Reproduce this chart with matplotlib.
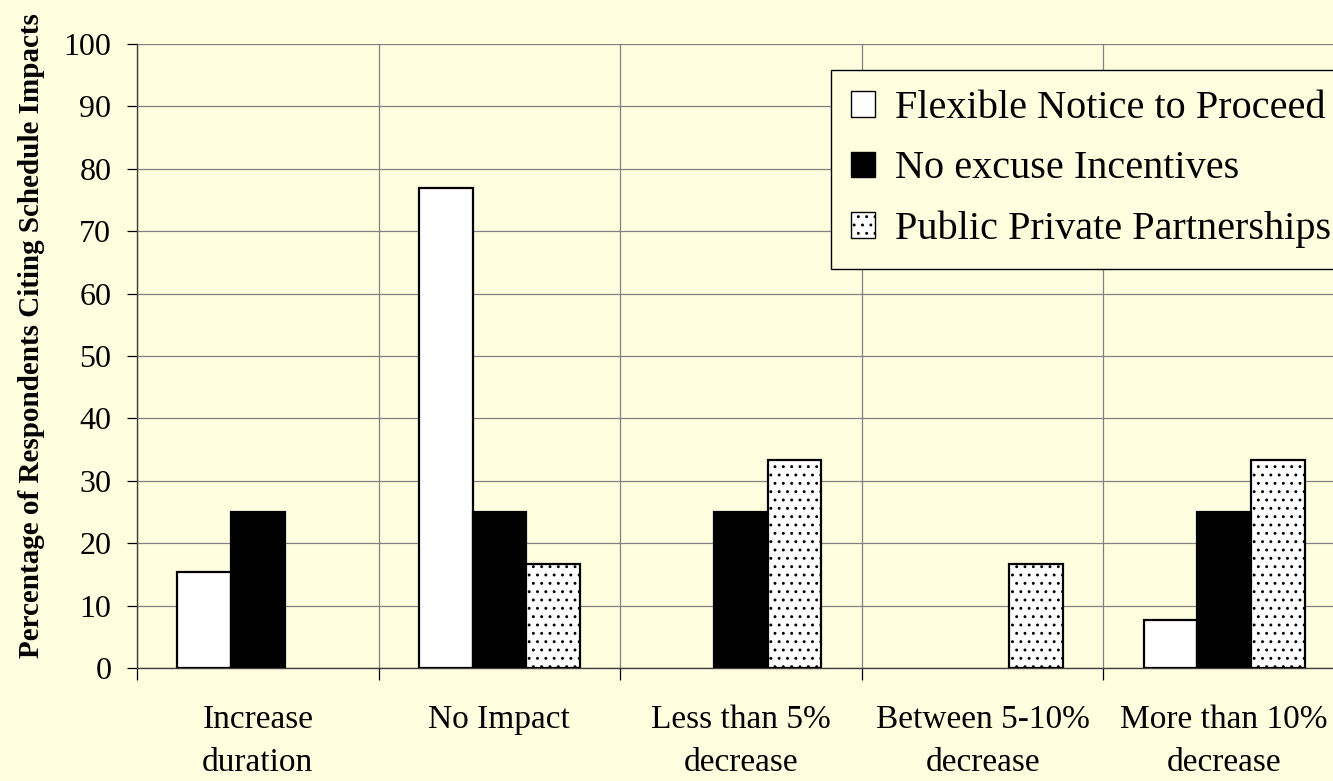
import numpy as np
import matplotlib
matplotlib.use('Agg')
import matplotlib.pyplot as plt
import matplotlib.ticker as ticker

categories = ['Increase\nduration', 'No Impact', 'Less than 5%\ndecrease',
              'Between 5-10%\ndecrease', 'More than 10%\ndecrease']
series_names = ['Flexible Notice to Proceed', 'No excuse Incentives',
                'Public Private Partnerships']
flexible_ntp = [15.4, 76.9, 0, 0, 7.7]
no_excuse = [25, 25, 25, 0, 25]
ppp = [0, 16.7, 33.3, 16.7, 33.3]

bg = '#ffffe0'
plt.rcParams['font.family'] = 'Liberation Serif'
plt.rcParams['hatch.linewidth'] = 0.9

fig = plt.figure(figsize=(13.33, 7.81), dpi=100, facecolor=bg)
ax = fig.add_axes([137 / 1333, 113 / 781, 1208 / 1333, 624 / 781])
ax.set_facecolor(bg)

x = np.arange(len(categories))
w = 0.222
styles = [dict(color='white'), dict(color='black'), dict(color='white', hatch='..')]
for i, (vals, name, st) in enumerate(zip([flexible_ntp, no_excuse, ppp], series_names, styles)):
    bars = ax.bar(x + (i - 1) * w, vals, w, edgecolor='black', linewidth=1.6,
                  label=name, zorder=3, **st)
    # empty categories get no bar outline
    for b, v in zip(bars, vals):
        if v == 0:
            b.set_linewidth(0)

ax.set_xlim(-0.5, 4.5)
ax.set_ylim(0, 100)
ax.yaxis.set_major_locator(ticker.MultipleLocator(10))
ax.set_xticks(x)
ax.set_xticklabels(categories, fontsize=24, linespacing=1.55)
ax.set_xticks(np.arange(-0.5, 4.6, 1), minor=True)
ax.tick_params(axis='x', which='major', length=0, pad=26)
ax.tick_params(axis='x', which='minor', length=8.5, width=0.9, direction='out')
ax.tick_params(axis='y', labelsize=23, length=7.5, width=0.9, direction='out', pad=11)

ax.grid(True, axis='y', color='#808080', linewidth=0.9, zorder=0)
ax.grid(True, axis='x', which='minor', color='#808080', linewidth=0.9, zorder=0)
ax.set_axisbelow(True)
for s in ['top', 'right']:
    ax.spines[s].set_visible(False)
for s in ['left', 'bottom']:
    ax.spines[s].set_color('#404040')
    ax.spines[s].set_linewidth(1.0)

ax.set_ylabel('Percentage of Respondents Citing Schedule Impacts', fontsize=21,
              fontweight='bold')
ax.yaxis.set_label_coords(-0.076, 0.532)

leg = ax.legend(loc='upper left', bbox_to_anchor=(831 / 1333, 711 / 781),
                bbox_transform=fig.transFigure, fontsize=29, frameon=True,
                fancybox=False, edgecolor='black', facecolor=bg, framealpha=1,
                handlelength=0.6, handleheight=0.6, handletextpad=0.5,
                labelspacing=0.58, borderpad=0.5, borderaxespad=0)
leg.get_frame().set_linewidth(1.0)
for h in leg.legend_handles:
    h.set_linewidth(1.0)

fig.savefig('out.png', dpi=100, facecolor=bg)
